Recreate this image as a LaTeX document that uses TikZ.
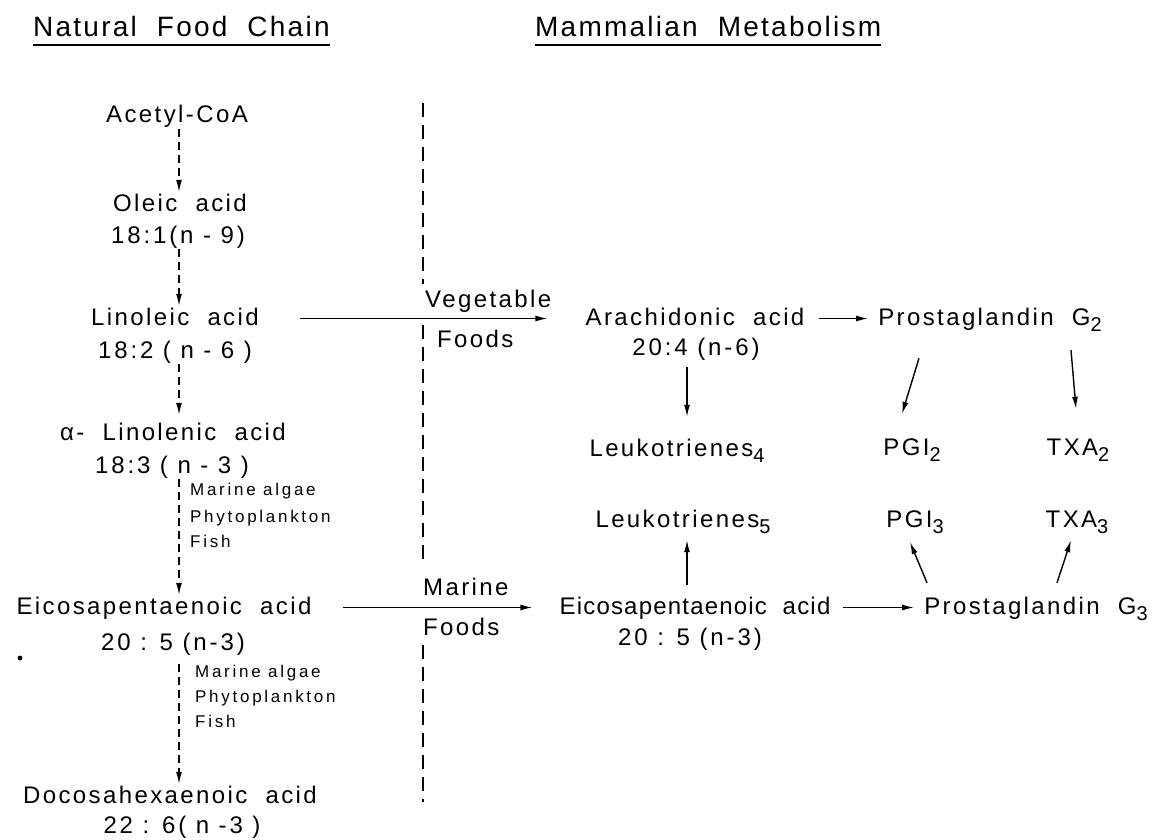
\documentclass[tikz,border=0pt]{standalone}
\usepackage{fontspec}
\setmainfont{Liberation Sans}[LetterSpace=10,WordSpace=2]
\newfontfamily\numfont{Liberation Sans}[LetterSpace=12]
\newfontfamily\headfont{Liberation Sans}[LetterSpace=8,WordSpace=2]
\newfontfamily\notefont{Liberation Sans}[LetterSpace=16]
\newfontfamily\tightfont{Liberation Sans}[LetterSpace=5,WordSpace=2]
\usetikzlibrary{arrows.meta}

\newcommand{\lowidx}[1]{\raisebox{-6pt}{\fontsize{20}{20}\selectfont #1}}

\tikzset{
  chem/.style={anchor=base, inner sep=1pt, text height=18pt, text depth=5pt,
    font=\fontsize{24}{28}\selectfont},
  ratio/.style={chem, font=\numfont\fontsize{24}{28}\selectfont},
  note/.style={anchor=base west, inner sep=0pt, font=\notefont\fontsize{17}{19}\selectfont},
  heading/.style={anchor=base west, inner sep=0pt, font=\headfont\fontsize{28}{32}\selectfont},
  chainarrow/.style={line width=1.3pt, dash pattern=on 8pt off 5pt,
    -{Latex[length=12pt,width=6pt]}},
  feedarrow/.style={line width=1.4pt, -{Latex[length=12pt,width=6pt]}},
  divider/.style={line width=1.4pt, dash pattern=on 14pt off 8pt},
}

\begin{document}
\begin{tikzpicture}[x=1pt,y=-1pt]
\useasboundingbox (0,0) rectangle (1162,840);

% headings
\node[heading] (ttlfood) at (33,37) {Natural Food Chain};
\node[heading] (ttlmeta) at (535,37) {Mammalian Metabolism};
\draw[line width=1.6pt] ([yshift=-8pt]ttlfood.base west) -- ([yshift=-8pt]ttlfood.base east);
\draw[line width=1.6pt] ([yshift=-8pt]ttlmeta.base west) -- ([yshift=-8pt]ttlmeta.base east);

% natural food chain
\coordinate (spine) at (179,0);
\node[chem] (acetyl) at (177,123) {Acetyl-CoA};
\node[chem] (oleic) at (180,211) {Oleic acid};
\node[ratio] (oleicnum) at (178,243) {18:1(n - 9)};
\node[chem] (linoleic) at (175,325) {Linoleic acid};
\node[ratio] (linoleicnum) at (175,358) {18:2 ( n - 6 )};
\node[chem] (linolenic) at (173,440) {α- Linolenic acid};
\node[ratio] (linolenicnum) at (172,473) {18:3 ( n - 3 )};
\node[chem] (epaleft) at (164,614) {Eicosapentaenoic acid};
\node[ratio] (epaleftnum) at (173,650) {20 : 5 (n-3)};
\node[chem] (dha) at (170,803) {Docosahexaenoic acid};
\node[ratio] (dhanum) at (182,833) {22 : 6( n -3 )};

\node[note] (algaeA) at (190,495) {Marine algae};
\node[note] (planktonA) at (190,522) {Phytoplankton};
\node[note] (fishA) at (190,547) {Fish};
\node[note] (algaeB) at (195,677) {Marine algae};
\node[note] (planktonB) at (195,702) {Phytoplankton};
\node[note] (fishB) at (195,727) {Fish};

\draw[chainarrow] (acetyl.south -| spine) -- (oleic.north -| spine);
\draw[chainarrow] (oleicnum.south -| spine) -- (linoleic.north -| spine);
\draw[chainarrow, shorten >=6pt] (linoleicnum.south -| spine) -- (linolenic.north -| spine);
\draw[chainarrow] (linolenicnum.south -| spine) -- (epaleft.north -| spine);
\draw[chainarrow, shorten <=8pt] (epaleftnum.south -| spine) -- (dha.north -| spine);

\fill (20,658) circle (2.4pt);

% divider
\draw[divider] (423,103) -- (423,284);
\draw[divider] (423,325) -- (423,565);
\draw[divider] (423,645) -- (423,802);

% mammalian metabolism
\node[chem] (arach) at (695,325) {Arachidonic acid};
\node[ratio] (arachnum) at (696,355) {20:4 (n-6)};
\node[chem] (pgtwo) at (990,325) {Prostaglandin G\lowidx{2}};
\node[chem] (leukiv) at (677,456) {Leukotrienes\lowidx{4}};
\node[chem] (pgitwo) at (912,455) {PGI\lowidx{2}};
\node[chem] (txatwo) at (1078,455) {TXA\lowidx{2}};
\node[chem] (leukv) at (683,527) {Leukotrienes\lowidx{5}};
\node[chem] (pgithree) at (915,527) {PGI\lowidx{3}};
\node[chem] (txathree) at (1077,527) {TXA\lowidx{3}};
\node[chem, font=\tightfont\fontsize{24}{28}\selectfont] (eparight) at (695,614) {Eicosapentaenoic acid};
\node[ratio] (eparightnum) at (690,645) {20 : 5 (n-3)};
\node[chem] (pgthree) at (1036,614) {Prostaglandin G\lowidx{3}};

% food routes
\node[chem, anchor=base west] (vegtext) at (424,307) {Vegetable};
\node[chem, anchor=base west] (vegfoods) at (436,347) {Foods};
\node[chem, anchor=base west] (marinetext) at (422,595) {Marine};
\node[chem, anchor=base west] (marinefoods) at (422,635) {Foods};

\draw[feedarrow, shorten <=40pt, shorten >=37pt] (linoleic.east) -- (arach.west);
\draw[feedarrow, shorten <=30pt, shorten >=26pt] (epaleft.east) -- (eparight.west);

\draw[feedarrow, shorten <=13pt, shorten >=9pt] (arach.east) -- (pgtwo.west);
\draw[feedarrow, shorten <=11pt, shorten >=9pt] (eparight.east) -- (pgthree.west);

\draw[feedarrow] ([xshift=-9pt,yshift=-6pt]arachnum.south) -- ([xshift=10pt,yshift=20pt]leukiv.north);
\draw[feedarrow] ([xshift=-71pt,yshift=-27pt]pgtwo.south) -- ([xshift=-10pt,yshift=22pt]pgitwo.north);
\draw[feedarrow] ([xshift=81pt,yshift=-19pt]pgtwo.south) -- ([xshift=-2pt,yshift=27pt]txatwo.north);

\draw[feedarrow] ([xshift=-8pt,yshift=10pt]eparight.north) -- ([xshift=4pt,yshift=-7pt]leukv.south);
\draw[feedarrow] ([xshift=-109pt,yshift=12pt]pgthree.north) -- ([xshift=-5pt,yshift=-9pt]pgithree.south);
\draw[feedarrow] ([xshift=21pt,yshift=12pt]pgthree.north) -- ([xshift=-6pt,yshift=-7pt]txathree.south);
\end{tikzpicture}
\end{document}
